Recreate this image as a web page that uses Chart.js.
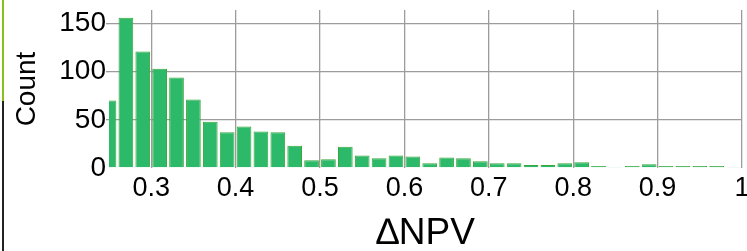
<!DOCTYPE html>
<html>
<head>
<meta charset="utf-8">
<script src="https://cdn.jsdelivr.net/npm/chart.js@4.4.0/dist/chart.umd.min.js"></script>
<style>
  html, body { margin: 0; padding: 0; background: #fff; overflow: hidden; }
  #wrap { position: relative; width: 747px; height: 251px; }
  #edge { position: absolute; left: 2px; top: 0; width: 2px; height: 251px;
          background: linear-gradient(to bottom, #86c21a 0, #86c21a 101px, #222 101px, #222 100%); }
</style>
</head>
<body>
<div id="wrap">
  <canvas id="histChart" width="747" height="251"></canvas>
  <div id="edge"></div>
</div>
<script>
// bin centres (width 0.02) and counts
var binCenters = [0.25, 0.27, 0.29, 0.31, 0.33, 0.35, 0.37, 0.39, 0.41, 0.43,
                  0.45, 0.47, 0.49, 0.51, 0.53, 0.55, 0.57, 0.59, 0.61, 0.63,
                  0.65, 0.67, 0.69, 0.71, 0.73, 0.75, 0.77, 0.79, 0.81, 0.83,
                  0.85, 0.87, 0.89, 0.91, 0.93, 0.95, 0.97, 0.99];
var counts = [70, 156, 121, 103, 94, 71, 48, 37, 43, 38,
              37, 23, 8, 9, 22, 13, 10, 13, 12, 5,
              11, 10, 7, 5, 5, 3, 3, 5, 6, 2,
              1, 2, 4, 2, 2, 2, 2, 1];
var xTicks = [0.3, 0.4, 0.5, 0.6, 0.7, 0.8, 0.9, 1.0];
var xTickLabels = ['0.3', '0.4', '0.5', '0.6', '0.7', '0.8', '0.9', '1'];
var yTicks = [0, 50, 100, 150];

var points = binCenters.map(function (c, i) { return { x: c, y: counts[i] }; });

var ctx = document.getElementById('histChart').getContext('2d');
var histChart = new Chart(ctx, {
  type: 'bar',
  data: {
    datasets: [{
      label: 'Count',
      data: points,
      backgroundColor: '#2cba6a',
      borderColor: '#3aa53a',
      borderWidth: 1,
      categoryPercentage: 1.0,
      barPercentage: 0.87
    }]
  },
  options: {
    responsive: false,
    animation: false,
    layout: { padding: { top: 10, left: 0, right: 5, bottom: 0 } },
    plugins: { legend: { display: false }, tooltip: { enabled: false } },
    scales: {
      x: {
        type: 'linear',
        offset: false,
        min: 0.25,
        max: 1.0,
        afterBuildTicks: function (s) { s.ticks = xTicks.map(function (v) { return { value: v }; }); },
        afterFit: function (s) { s.paddingLeft = 0; s.paddingRight = 0; s.height = 83; },
        ticks: {
          color: '#000',
          font: { family: 'Liberation Sans, Arial', size: 27 },
          padding: 4,
          maxRotation: 0,
          callback: function (v) {
            var i = xTicks.indexOf(Math.round(v * 100) / 100);
            return i >= 0 ? xTickLabels[i] : '';
          }
        },
        grid: { color: '#9c9c9c', lineWidth: 1.3, drawTicks: false, offset: false },
        border: { display: false },
        title: {
          display: true,
          text: '\u2206NPV',
          color: '#000',
          font: { family: 'Liberation Sans, Arial', size: 37 },
          padding: { top: 8, bottom: -5 }
        }
      },
      y: {
        min: 0,
        max: 164,
        afterBuildTicks: function (s) { s.ticks = yTicks.map(function (v) { return { value: v }; }); },
        afterFit: function (s) { s.width = 109; s.paddingTop = 0; s.paddingBottom = 0; },
        ticks: {
          color: '#000',
          font: { family: 'Liberation Sans, Arial', size: 28 },
          padding: 0
        },
        grid: {
          color: function (c) { return c.tick && c.tick.value === 0 ? 'rgba(0,0,0,0)' : '#9c9c9c'; },
          lineWidth: 1.3,
          tickLength: 3
        },
        border: { display: false },
        title: {
          display: true,
          text: 'Count',
          color: '#000',
          font: { family: 'Liberation Sans, Arial', size: 28 },
          padding: { top: 10, bottom: 0 }
        }
      }
    }
  }
});
</script>
</body>
</html>
